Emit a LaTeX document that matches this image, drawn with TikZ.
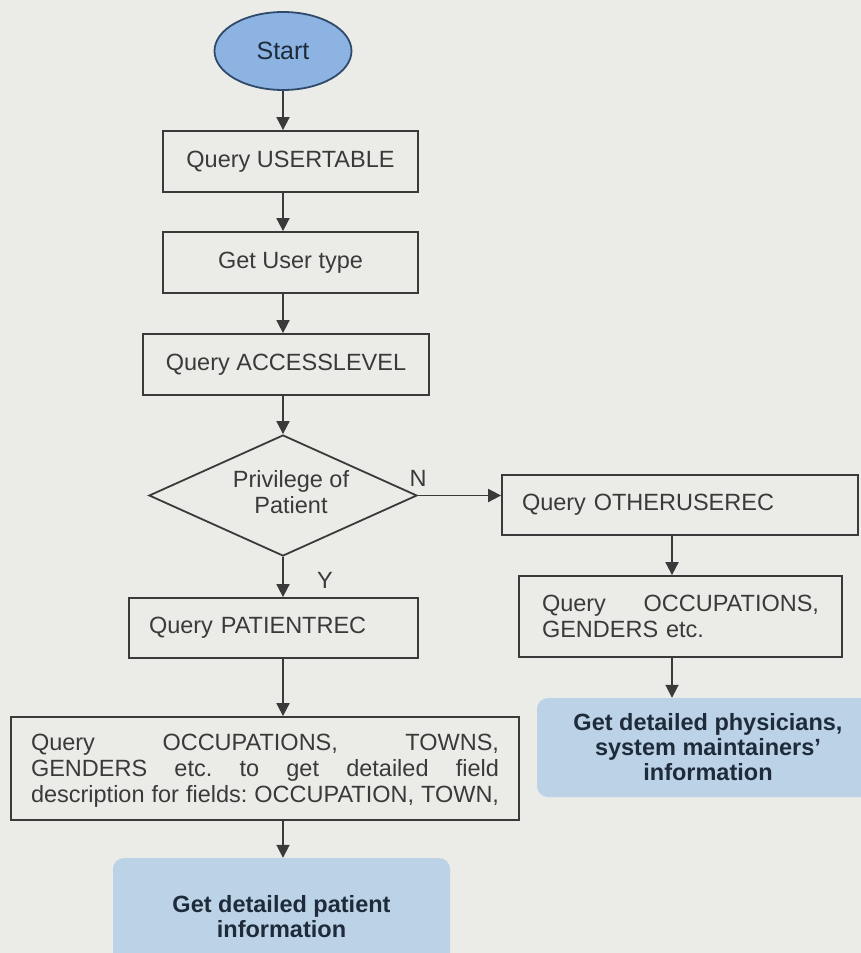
\documentclass[tikz,border=0pt]{standalone}
\usepackage{fontspec}
\setmainfont{Liberation Sans}
\usetikzlibrary{shapes.geometric,arrows.meta}

\definecolor{pagebg}{HTML}{EBEBE8}
\definecolor{ink}{HTML}{3A3A3A}
\definecolor{startfill}{HTML}{8DB3E2}
\definecolor{startline}{HTML}{2F4A6B}
\definecolor{resultfill}{HTML}{BCD2E7}
\definecolor{navy}{HTML}{1E2B3A}

\tikzset{
  every node/.style={font=\fontsize{23.5}{26}\selectfont, text=ink},
  procbox/.style={draw=ink, line width=1.8pt, rectangle, inner sep=0pt},
  leftbox/.style={procbox, inner xsep=20pt, align=left},
  resultbox/.style={fill=resultfill, rounded corners=11pt, inner sep=0pt,
    align=center, text=navy, font=\fontsize{23.5}{25}\selectfont\bfseries},
  decision/.style={draw=ink, line width=1.8pt, diamond, inner sep=0pt},
  flow/.style={draw=ink, line width=1.8pt, -{Triangle[length=13pt,width=13pt]}},
  branchlabel/.style={inner sep=0pt}
}

\begin{document}
\begin{tikzpicture}[x=1pt, y=-1pt]
  \useasboundingbox (0,0) rectangle (861,953);
  \fill[pagebg] (0,0) rectangle (861,953);
  \begin{scope}
    \clip (0,0) rectangle (861,953);

    % main column
    \coordinate (spine) at (283,0);
    \node[ellipse, draw=startline, line width=1.8pt, fill=startfill, text=navy,
          font=\fontsize{25}{28}\selectfont,
          minimum width=137pt, minimum height=78pt, inner sep=0pt]
          (start) at (283,51) {Start};
    \node[procbox, minimum width=255pt, minimum height=61pt] (usr)   at (290.5,161.5) {Query USERTABLE};
    \node[procbox, minimum width=255pt, minimum height=61pt] (utype) at (290.5,262.5) {Get User type};
    \node[procbox, minimum width=286pt, minimum height=61pt] (acc)   at (286,364.5)   {Query ACCESSLEVEL};

    \node[decision, minimum width=268pt, minimum height=121pt] (dia) at (283,495.5) {};
    \node[align=center, inner sep=0pt] (diatext) at (291,492)
         {Privilege of\\Patient};

    \node[leftbox, text width=249pt, minimum height=60pt] (pat) at (273.5,628) {Query PATIENTREC};
    \node[leftbox, text width=468pt, minimum height=103pt] (fields) at (265,768.5)
      {\rule{0pt}{21pt}\makebox[468pt][s]{Query\hfill OCCUPATIONS,\hfill TOWNS,}\\
       \makebox[468pt][s]{GENDERS\hfill etc.\hfill to\hfill get\hfill detailed\hfill field}\\
       \makebox[468pt][s]{description\hfill for\hfill fields:\hfill OCCUPATION,\hfill TOWN,}};
    \node[resultbox, minimum width=337pt, minimum height=118pt] (patinfo) at (281.5,917)
      {Get detailed patient\\information};

    % right column
    \node[leftbox, text width=316pt, minimum height=60pt] (other) at (680,505) {Query OTHERUSEREC};
    \node[leftbox, inner xsep=23pt, text width=277pt, minimum height=81pt] (occ) at (680.5,616.5)
      {\makebox[277pt][s]{Query\hfill OCCUPATIONS,}\\GENDERS etc.};
    \node[resultbox, minimum width=342pt, minimum height=99pt] (staffinfo) at (708,747.5)
      {Get detailed physicians,\\system maintainers'\\information};

    % connectors
    \draw[flow] (start.south -| spine) -- (usr.north -| spine);
    \draw[flow] (usr.south -| spine)   -- (utype.north -| spine);
    \draw[flow] (utype.south -| spine) -- (acc.north -| spine);
    \draw[flow] (acc.south -| spine)   -- (dia.north);
    \draw[flow] (dia.south)            -- (pat.north -| spine);
    \draw[flow] (pat.south -| spine)   -- (fields.north -| spine);
    \draw[flow] (fields.south -| spine) -- (patinfo.north -| spine);

    \draw[flow] (dia.east) -- (other.west |- dia.east);
    \coordinate (rspine) at (672,0);
    \draw[flow] (other.south -| rspine) -- (occ.north -| rspine);
    \draw[flow] (occ.south -| rspine)   -- (staffinfo.north -| rspine);

    % branch labels
    \node[branchlabel] (nlabel) at (418,478) {N};
    \node[branchlabel] (ylabel) at (325,580) {Y};
  \end{scope}
\end{tikzpicture}
\end{document}
